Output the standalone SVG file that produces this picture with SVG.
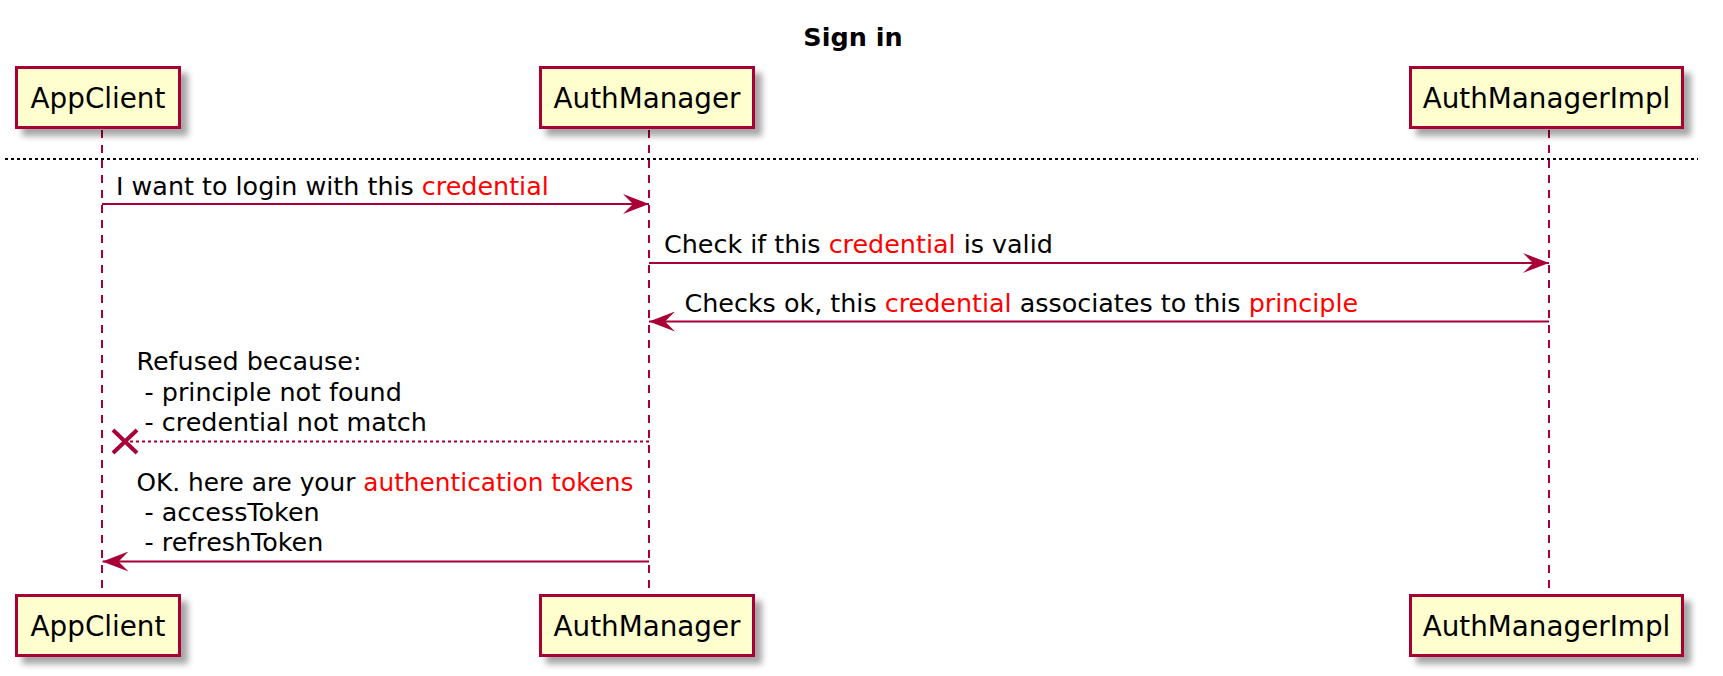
<svg xmlns="http://www.w3.org/2000/svg" width="1723" height="676" viewBox="0 0 1723 676">
<style>
  .box { fill: #FEFECE; stroke: #A80036; stroke-width: 3; filter: url(#shadow); }
  .pname { font-family: "DejaVu Sans", sans-serif; font-size: 27.8px; fill: #000; text-anchor: middle; }
  .life { stroke: #A80036; stroke-width: 2; stroke-dasharray: 8,7; fill: none; }
  .msg { stroke: #A80036; stroke-width: 2; fill: none; }
  .msgdot { stroke: #A80036; stroke-width: 2; stroke-dasharray: 3,3; fill: none; }
  .lbl { font-family: "DejaVu Sans", sans-serif; font-size: 25.4px; fill: #000; }
  .red { fill: #FF0000; }
  .title { font-family: "DejaVu Sans", sans-serif; font-size: 25.5px; font-weight: bold; fill: #000; text-anchor: middle; }
  .divider { stroke: #000; stroke-width: 2; stroke-dasharray: 3,3; }
</style>
<defs>
  <filter id="shadow" x="-20%" y="-20%" width="150%" height="160%">
    <feGaussianBlur in="SourceAlpha" stdDeviation="3"/>
    <feOffset dx="7" dy="7" result="b"/>
    <feFlood flood-color="#000" flood-opacity="0.35"/>
    <feComposite in2="b" operator="in" result="s"/>
    <feMerge><feMergeNode in="s"/><feMergeNode in="SourceGraphic"/></feMerge>
  </filter>
  <marker id="arrow" markerUnits="userSpaceOnUse" viewBox="0 0 26 20" refX="26" refY="10" markerWidth="26" markerHeight="20" orient="auto">
    <path d="M0,0 L26,10 L0,20 L10,10 Z" fill="#A80036"/>
  </marker>
</defs>
<rect width="1723" height="676" fill="#FFFFFF"/>

<text class="title" x="853" y="46">Sign in</text>

<g id="AppClient">
  <line class="life" x1="102" y1="130" x2="102" y2="594"/>
  <rect class="box" x="16.5" y="67.5" width="163" height="60"/>
  <text class="pname" x="98" y="107.5">AppClient</text>
  <rect class="box" x="16.5" y="595.5" width="163" height="60"/>
  <text class="pname" x="98" y="635.5">AppClient</text>
</g>

<g id="AuthManager">
  <line class="life" x1="649" y1="130" x2="649" y2="594"/>
  <rect class="box" x="540.5" y="67.5" width="213" height="60"/>
  <text class="pname" x="647" y="107.5">AuthManager</text>
  <rect class="box" x="540.5" y="595.5" width="213" height="60"/>
  <text class="pname" x="647" y="635.5">AuthManager</text>
</g>

<g id="AuthManagerImpl">
  <line class="life" x1="1549" y1="130" x2="1549" y2="594"/>
  <rect class="box" x="1410.5" y="67.5" width="272" height="60"/>
  <text class="pname" x="1546.5" y="107.5">AuthManagerImpl</text>
  <rect class="box" x="1410.5" y="595.5" width="272" height="60"/>
  <text class="pname" x="1546.5" y="635.5">AuthManagerImpl</text>
</g>

<line class="divider" x1="5" y1="159" x2="1698" y2="159"/>

<g id="connectors">
  <line class="msg" x1="102" y1="204" x2="649" y2="204" marker-end="url(#arrow)"/>
  <text class="lbl" x="116" y="195">I want to login with this <tspan class="red">credential</tspan></text>

  <line class="msg" x1="649" y1="263" x2="1549" y2="263" marker-end="url(#arrow)"/>
  <text class="lbl" x="664" y="253">Check if this <tspan class="red">credential</tspan> is valid</text>

  <line class="msg" x1="1549" y1="321.5" x2="649" y2="321.5" marker-end="url(#arrow)"/>
  <text class="lbl" x="684.5" y="311.5">Checks ok, this <tspan class="red">credential</tspan> associates to this <tspan class="red">principle</tspan></text>

  <line class="msgdot" x1="649" y1="441.5" x2="126" y2="441.5"/>
  <path d="M113,430 L137,453 M137,430 L113,453" stroke="#A80036" stroke-width="4" fill="none"/>
  <text class="lbl" x="136.5" y="370">Refused because:</text>
  <text class="lbl" x="136.5" y="401" xml:space="preserve"> - principle not found</text>
  <text class="lbl" x="136.5" y="431" xml:space="preserve"> - credential not match</text>

  <line class="msg" x1="649" y1="561.5" x2="102.5" y2="561.5" marker-end="url(#arrow)"/>
  <text class="lbl" x="136.5" y="490.5" textLength="497" lengthAdjust="spacingAndGlyphs">OK. here are your <tspan class="red">authentication tokens</tspan></text>
  <text class="lbl" x="136.5" y="520.5" xml:space="preserve"> - accessToken</text>
  <text class="lbl" x="136.5" y="550.5" xml:space="preserve"> - refreshToken</text>
</g>
</svg>
